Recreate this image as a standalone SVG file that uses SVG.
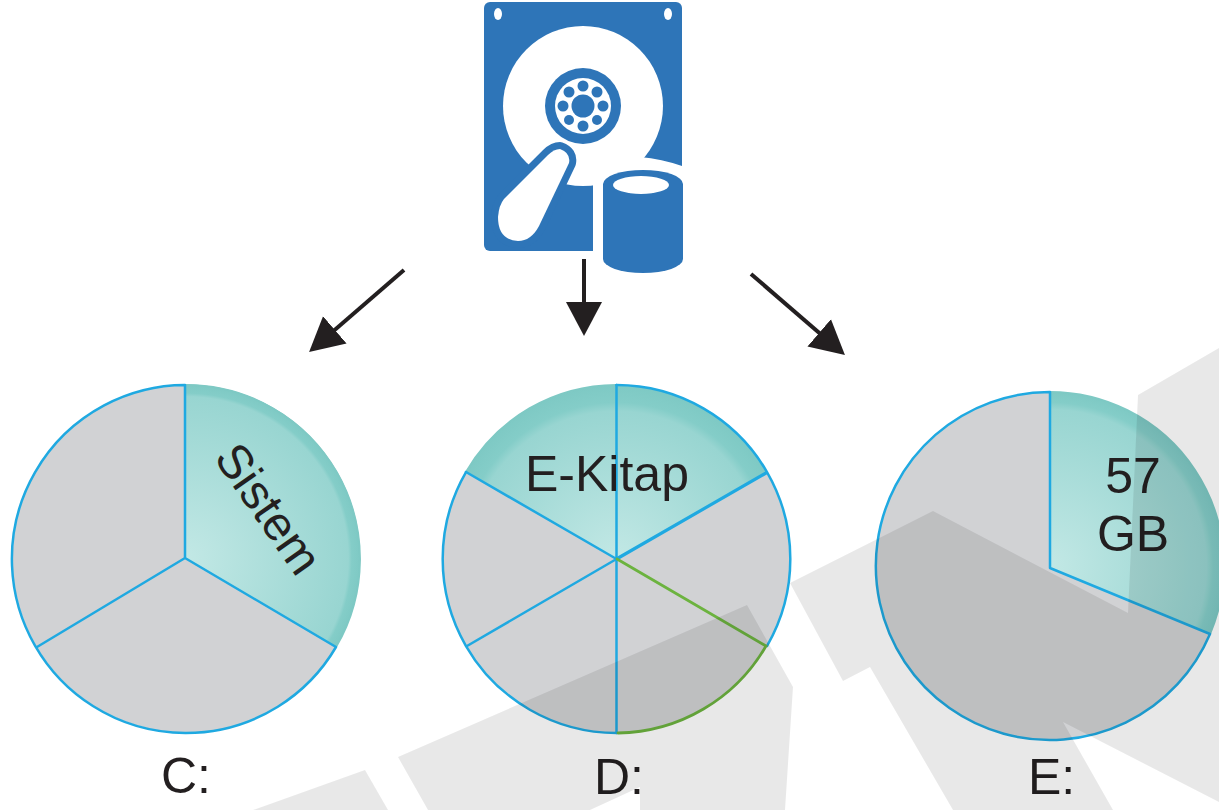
<svg xmlns="http://www.w3.org/2000/svg" width="1219" height="810" viewBox="0 0 1219 810">
<style>
.bg{fill:#fff}
.grey{fill:#d1d2d4}
.sp{stroke:#1fa9e1;stroke-width:2.5;fill:none;stroke-linecap:round;stroke-linejoin:round}
.thick{stroke-width:3.2}
.gr{stroke:#6cb33f;stroke-width:2.8;fill:none;stroke-linecap:round}
.rim{stroke:#7ec9c4;stroke-width:2;fill:none}
.b{fill:#2e75b8}
.band{fill:#2e75b8;stroke:#2e75b8;stroke-width:14;stroke-linejoin:round}
.w{fill:#fff}
.t{font-family:"Liberation Sans",Arial,sans-serif;font-size:50px;fill:#231f20}
.s{font-size:48px}
.arr{stroke:#231f20;stroke-width:4;fill:none;marker-end:url(#head)}
.wm{fill:#000;fill-opacity:.09}
</style>
<defs>
<marker id="head" markerUnits="userSpaceOnUse" markerWidth="36" markerHeight="38" refX="9" refY="19" orient="auto"><path d="M0,1 L34,19 L0,37Z" fill="#231f20"/></marker>
<radialGradient id="tc" gradientUnits="userSpaceOnUse" cx="186.5" cy="558.5" r="174"><stop offset="0" stop-color="#c2e8e5"/><stop offset=".93" stop-color="#98d5d1"/><stop offset=".95" stop-color="#84cdc8"/><stop offset="1" stop-color="#7ec9c4"/></radialGradient>
<radialGradient id="td" gradientUnits="userSpaceOnUse" cx="616.5" cy="559" r="174"><stop offset="0" stop-color="#c2e8e5"/><stop offset=".85" stop-color="#98d5d1"/><stop offset=".9" stop-color="#84cdc8"/><stop offset="1" stop-color="#7ec9c4"/></radialGradient>
<radialGradient id="te" gradientUnits="userSpaceOnUse" cx="1050" cy="566" r="174"><stop offset="0" stop-color="#c2e8e5"/><stop offset=".9" stop-color="#98d5d1"/><stop offset=".94" stop-color="#84cdc8"/><stop offset="1" stop-color="#7ec9c4"/></radialGradient>
</defs>
<rect class="bg" width="1219" height="810"/>
<g id="disk">
<rect class="b" x="484" y="2" width="198" height="249" rx="6"/>
<ellipse class="w" cx="498" cy="14" rx="4" ry="6"/>
<ellipse class="w" cx="668" cy="14" rx="4" ry="6"/>
<circle class="w" cx="583" cy="106" r="80"/>
<path class="w" d="M640,157 Q662,159 682,166 L690,280 L593,280 L593,185 L570,185 L580,150Z"/>
<path class="band" d="M560,149 Q571,153 569,163 L539,226 Q531,241 518,241 Q498,240 498,217 Q499,205 504,199 L548,155 Q554,149 560,149Z"/>
<path class="w" d="M560,149 Q571,153 569,163 L539,226 Q531,241 518,241 Q498,240 498,217 Q499,205 504,199 L548,155 Q554,149 560,149Z"/>
<circle class="b" cx="583" cy="106" r="38"/>
<circle class="w" cx="583" cy="106" r="28"/>
<circle class="b" cx="583" cy="106" r="11.5"/>
<g class="b"><circle cx="583" cy="86" r="5.5"/><circle cx="597" cy="92" r="5.5"/><circle cx="603" cy="106" r="5.5"/><circle cx="597" cy="120" r="5"/><circle cx="583" cy="126" r="5.5"/><circle cx="569" cy="120" r="5"/><circle cx="563" cy="106" r="5.5"/><circle cx="569" cy="92" r="5.5"/></g>
<path class="b" d="M603,184 A40,14 0 0 1 683,184 L683,259 A40,14 0 0 1 603,259Z"/>
<ellipse class="w" cx="641" cy="185" rx="28" ry="9"/>
</g>
<g id="connectors">
<line class="arr" x1="404" y1="270" x2="328" y2="335.7"/>
<line class="arr" x1="584" y1="259" x2="584" y2="311"/>
<line class="arr" x1="751" y1="274" x2="826" y2="338.7"/>
</g>
<g id="pie-c">
<circle class="grey" cx="186.5" cy="558.5" r="174"/>
<path fill="url(#tc)" d="M185,558 L185,384.5 A174,174 0 0 1 336,647Z"/>
<path class="rim" d="M186,385 A174,174 0 0 1 336,647"/>
<path class="sp" d="M185,385 A174,174 0 1 0 336,647 L185,558 L185,385 M37,647 L185,558"/>
<text class="t s" transform="translate(213,458) rotate(55)">Sistem</text>
<text class="t" x="161" y="793">C:</text>
</g>
<g id="pie-d">
<circle class="grey" cx="616.5" cy="559" r="174"/>
<path fill="url(#td)" d="M616.5,559 L466,472 A174,174 0 0 1 767,472Z"/>
<path class="rim" d="M466,472 A174,174 0 0 1 616,385"/>
<path class="sp" d="M616.5,385 A174,174 0 0 1 767,472 A174,174 0 0 1 767,646 M617,733 A174,174 0 0 1 466,646 A174,174 0 0 1 466,472"/>
<path class="sp" d="M616.5,385 L616.5,733 M466,472 L616.5,559 L467,646"/>
<path class="sp thick" d="M616.5,559 L766,473"/>
<path class="gr" d="M617,559 L766,646 A174,174 0 0 1 618,733"/>
<text class="t" x="525" y="491">E-Kitap</text>
<text class="t" x="594" y="794">D:</text>
</g>
<g id="pie-e">
<circle class="grey" cx="1050" cy="566" r="174"/>
<path fill="url(#te)" d="M1050,568 L1050,392 A174,174 0 0 1 1210,634Z"/>
<path class="rim" d="M1050,392 A174,174 0 0 1 1210,634"/>
<path class="sp" d="M1050,392 A174,174 0 1 0 1210,634 L1050,568 L1050,392"/>
<text class="t" x="1133" y="493" text-anchor="middle">57</text>
<text class="t" x="1133" y="551" text-anchor="middle">GB</text>
<text class="t" x="1028" y="794">E:</text>
</g>
<g id="watermark">
<path class="wm" d="M365,770 L253,810 L388,810Z"/>
<path class="wm" d="M747,605 L398,757 L428,810 L590,810 L640,787 L640,810 L785,810 L793,687Z"/>
<path class="wm" d="M1219,348 L1138,395 L1128,613 L933,511 L790,583 L843,681 L870,667 L953,810 L1113,810 L1063,722 L1219,802Z"/>
</g>
</svg>
